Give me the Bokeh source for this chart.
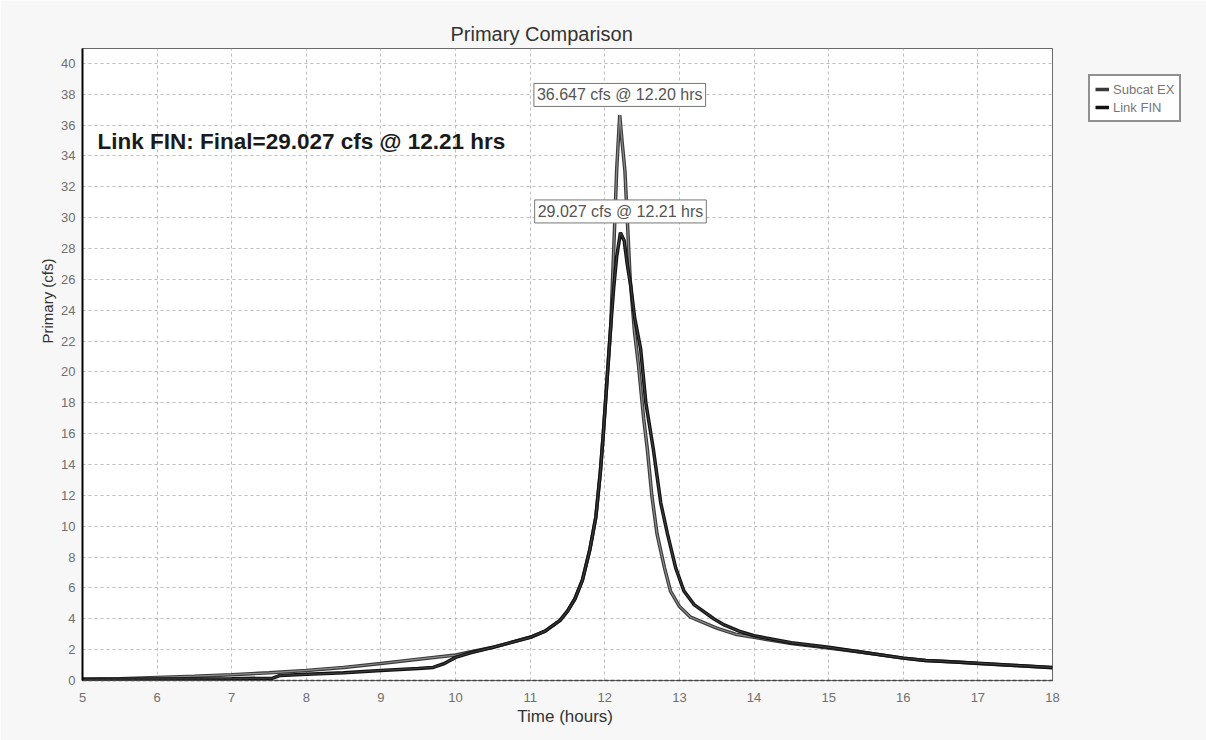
from bokeh.plotting import figure
from bokeh.models import Label, Legend, LegendItem, Range1d, FixedTicker, Title
from bokeh.embed import file_html
from bokeh.resources import INLINE

# ---- data ----
subcat_t = [5.0, 5.5, 6.0, 6.5, 7.0, 7.5, 8.0, 8.5, 9.0, 9.5, 10.0, 10.5, 11.0, 11.2, 11.4, 11.5,
            11.6, 11.7, 11.8, 11.88, 11.94, 11.98, 12.03, 12.08, 12.12, 12.16, 12.20, 12.23, 12.27,
            12.30, 12.34, 12.40, 12.45, 12.52, 12.57, 12.63, 12.70, 12.80, 12.88, 13.0, 13.15, 13.3,
            13.5, 13.75, 14.0, 14.5, 15.0, 15.5, 16.0, 16.3, 16.7, 17.0, 17.5, 18.0]
subcat_q = [0.08, 0.12, 0.2, 0.28, 0.38, 0.5, 0.65, 0.85, 1.1, 1.38, 1.65, 2.15, 2.8, 3.2, 3.9, 4.5,
            5.3, 6.5, 8.5, 10.6, 13.5, 16.0, 19.5, 23.0, 28.0, 33.2, 36.647, 35.0, 33.0,
            30.0, 26.0, 22.5, 20.5, 17.0, 15.0, 12.0, 9.5, 7.3, 5.8, 4.8, 4.1, 3.8,
            3.4, 3.0, 2.8, 2.4, 2.1, 1.8, 1.45, 1.3, 1.2, 1.1, 0.98, 0.82]

link_t = [5.0, 6.0, 7.0, 7.55, 7.65, 8.0, 8.5, 9.0, 9.5, 9.7, 9.85, 10.0, 10.2, 10.5, 11.0, 11.2,
          11.4, 11.5, 11.6, 11.7, 11.8, 11.88, 11.94, 11.98, 12.03, 12.08, 12.12, 12.16, 12.21,
          12.26, 12.30, 12.35, 12.40, 12.48, 12.55, 12.65, 12.75, 12.84, 12.95, 13.06, 13.2, 13.46,
          13.6, 13.8, 14.0, 14.5, 15.0, 15.5, 16.0, 16.3, 16.7, 17.0, 17.5, 18.0]
link_q = [0.08, 0.1, 0.12, 0.15, 0.33, 0.4, 0.5, 0.65, 0.78, 0.85, 1.1, 1.5, 1.8, 2.15, 2.8, 3.2,
          3.9, 4.5, 5.3, 6.5, 8.5, 10.6, 13.5, 16.0, 19.5, 23.0, 25.5, 27.5, 29.027,
          28.5, 27.0, 25.5, 23.5, 21.5, 18.0, 15.0, 11.5, 9.5, 7.3, 5.8, 4.9, 4.0,
          3.6, 3.2, 2.9, 2.45, 2.15, 1.8, 1.45, 1.3, 1.2, 1.12, 0.98, 0.85]

series_names = ["Subcat EX", "Link FIN"]
peak_labels = ["36.647 cfs @ 12.20 hrs", "29.027 cfs @ 12.21 hrs"]
peak_t = [12.20, 12.21]
peak_label_y = [37.95, 30.4]
note_text = "Link FIN: Final=29.027 cfs @ 12.21 hrs"
x_ticks = list(range(5, 19))
y_ticks = list(range(0, 41, 2))

FONT = "Liberation Sans"

p = figure(width=1206, height=740, frame_width=970, frame_height=632,
           output_backend="svg", toolbar_location=None,
           x_range=Range1d(5, 18), y_range=Range1d(0, 40.96),
           min_border_left=82, min_border_right=154, min_border_top=48, min_border_bottom=60)
p.background_fill_color = "white"
p.border_fill_color = "#f7f7f7"
p.outline_line_color = "#6a6a6a"
p.outline_line_width = 1

# title
p.title.text = "Primary Comparison"
p.title.align = "left"
p.title.offset = 368
p.title.text_font = FONT
p.title.text_font_size = "20px"
p.title.text_font_style = "normal"
p.title.text_color = "#333333"
p.title.standoff = 7

# grid
for g in (p.xgrid, p.ygrid):
    g.grid_line_color = "#bdbdbd"
    g.grid_line_dash = "3 3"
    g.grid_line_width = 1
p.xaxis.ticker = FixedTicker(ticks=x_ticks)
p.yaxis.ticker = FixedTicker(ticks=y_ticks)
p.xgrid.ticker = FixedTicker(ticks=x_ticks)
p.ygrid.ticker = FixedTicker(ticks=y_ticks)

# axes
for ax in (p.xaxis, p.yaxis):
    ax.major_tick_line_color = None
    ax.minor_tick_line_color = None
    ax.major_tick_out = 0
    ax.major_tick_in = 0
    ax.minor_tick_out = 0
    ax.major_label_text_font = FONT
    ax.major_label_text_font_size = "13px"
    ax.major_label_text_color = "#707070"
p.yaxis.axis_line_color = "black"
p.yaxis.axis_line_width = 2
p.yaxis.major_label_standoff = 7
p.xaxis.axis_line_color = "#444444"
p.xaxis.axis_line_dash = "4 2"
p.xaxis.axis_line_width = 1.5
p.xaxis.major_label_standoff = 12
p.xaxis.axis_label = "Time  (hours)"
p.xaxis.axis_label_text_font = FONT
p.xaxis.axis_label_text_font_size = "17px"
p.xaxis.axis_label_text_font_style = "normal"
p.xaxis.axis_label_text_color = "#333333"
p.xaxis.axis_label_standoff = 2

# y-axis label as a left-side title (shifted up like the reference)
p.add_layout(Title(text="Primary (cfs)", align="right", offset=210, text_font=FONT,
                   text_font_size="15px", text_font_style="normal", text_color="#333333",
                   standoff=6), "left")

# lines (outlined look)
s_outer = p.line(subcat_t, subcat_q, line_color="#3a3a3a", line_width=3.5)
s_inner = p.line(subcat_t, subcat_q, line_color="#8c8c8c", line_width=1.2)
l_outer = p.line(link_t, link_q, line_color="#111111", line_width=3.5)
l_inner = p.line(link_t, link_q, line_color="#3c3c3c", line_width=1.2)

# peak labels
for txt, t, yv in zip(peak_labels, peak_t, peak_label_y):
    p.add_layout(Label(x=t, y=yv, text=txt, text_align="center", text_baseline="middle",
                       text_font=FONT, text_font_size="16px", text_color="#555555",
                       background_fill_color="white", border_line_color="#777777",
                       border_line_width=1, padding=3))

# big note
p.add_layout(Label(x=15, y=632 - 93, x_units="screen", y_units="screen", text=note_text,
                   text_align="left", text_baseline="middle", text_font=FONT,
                   text_font_size="22.5px", text_font_style="bold", text_color="#1a1a1a"))

# legend outside, right
legend = Legend(items=[LegendItem(label=series_names[0], renderers=[s_outer]),
                       LegendItem(label=series_names[1], renderers=[l_outer])],
                location=(36, 558), background_fill_color="white", background_fill_alpha=1,
                border_line_color="#222222", border_line_width=2,
                label_text_color="#777777", label_text_font=FONT, label_text_font_size="13px",
                glyph_width=14, glyph_height=10, label_height=16, label_standoff=4,
                spacing=2, padding=5, margin=0)
p.add_layout(legend, "right")

open("out.html", "w").write(file_html(p, INLINE))
